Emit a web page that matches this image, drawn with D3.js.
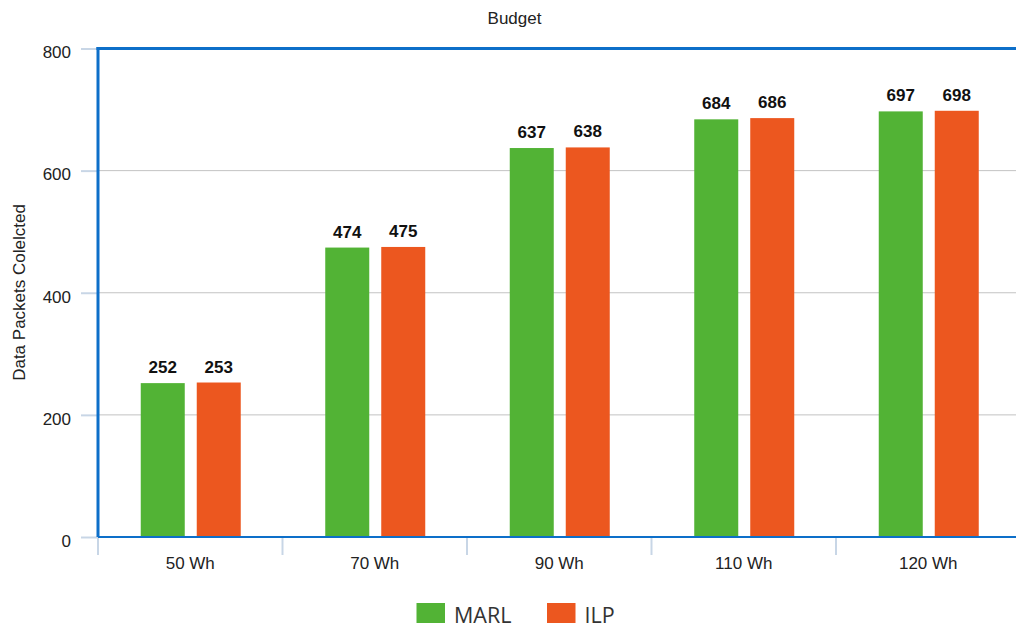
<!DOCTYPE html>
<html>
<head>
<meta charset="utf-8">
<script src="https://cdn.jsdelivr.net/npm/d3@7"></script>
<style>
  html, body { margin: 0; padding: 0; background: #fff; }
  svg { display: block; }
</style>
</head>
<body>
<svg id="chart" width="1016" height="628"></svg>
<script>
// Budget levels and packets collected per method
const categories = ["50 Wh", "70 Wh", "90 Wh", "110 Wh", "120 Wh"];
const seriesNames = ["MARL", "ILP"];
const marlValues = [252, 474, 637, 684, 697];
const ilpValues = [253, 475, 638, 686, 698];
const yTicks = [0, 200, 400, 600, 800];
const colors = ["#52b335", "#ec571f"];

const svg = d3.select("#chart");
const W = 1016, H = 628;
const plotLeft = 98, plotTop = 48.5, plotBottom = 537;
const bandW = 184.5;
const plotRight = plotLeft + bandW * categories.length;
const FONT = "Liberation Sans, Arial, sans-serif";

const x = d3.scaleBand().domain(categories).range([plotLeft, plotRight]).paddingInner(0).paddingOuter(0);
const y = d3.scaleLinear().domain([0, 800]).range([plotBottom, plotTop]);

// Horizontal gridlines
svg.append("g").selectAll("line").data(yTicks.filter(v => v > 0 && v < 800)).join("line")
  .attr("x1", plotLeft).attr("x2", W)
  .attr("y1", d => y(d)).attr("y2", d => y(d))
  .attr("stroke", "#c3c3c3").attr("stroke-width", 1);

// Y axis: tick stubs + labels
const yAxis = svg.append("g").attr("transform", `translate(${plotLeft},0)`)
  .call(d3.axisLeft(y).tickValues(yTicks).tickSize(17).tickPadding(10));
yAxis.select(".domain").remove();
yAxis.selectAll(".tick line").attr("stroke", "#c8d6e6").attr("stroke-width", 2);
yAxis.selectAll(".tick text").attr("font-family", FONT)
  .attr("font-size", 17).attr("fill", "#222").attr("dy", "0.55em");

// X axis: ticks at band boundaries
const xAxisG = svg.append("g").attr("transform", `translate(0,${plotBottom})`);
xAxisG.selectAll("line").data(categories).join("line")
  .attr("x1", d => x(d)).attr("x2", d => x(d))
  .attr("y1", 1).attr("y2", 18)
  .attr("stroke", "#c8d6e6").attr("stroke-width", 2);
xAxisG.selectAll("text").data(categories).join("text")
  .attr("x", d => x(d) + x.bandwidth() / 2).attr("y", 32)
  .attr("text-anchor", "middle")
  .attr("font-family", FONT)
  .attr("font-size", 17).attr("fill", "#222")
  .text(d => d);

// Bars
const barW = 44, gap = 12;
const rows = categories.map((c, i) => ({ cat: c, vals: [marlValues[i], ilpValues[i]] }));
const groups = svg.append("g").selectAll("g").data(rows).join("g");
groups.each(function(r) {
  const g = d3.select(this);
  const cx = x(r.cat) + x.bandwidth() / 2 + 0.5;
  r.vals.forEach((v, k) => {
    const bx = k === 0 ? cx - gap / 2 - barW : cx + gap / 2;
    g.append("rect")
      .attr("x", bx).attr("y", y(v))
      .attr("width", barW).attr("height", y(0) - y(v))
      .attr("fill", colors[k]);
    g.append("text")
      .attr("x", bx + barW / 2).attr("y", y(v) - 10)
      .attr("text-anchor", "middle")
      .attr("font-family", FONT)
      .attr("font-size", 17).attr("font-weight", "bold").attr("fill", "#111")
      .text(v);
  });
});

// Plot frame: left, top, bottom in blue
svg.append("line").attr("x1", plotLeft).attr("x2", plotLeft).attr("y1", plotTop - 1.5).attr("y2", plotBottom)
  .attr("stroke", "#0d6fc9").attr("stroke-width", 3);
svg.append("line").attr("x1", plotLeft - 1.5).attr("x2", W).attr("y1", plotTop).attr("y2", plotTop)
  .attr("stroke", "#0d6fc9").attr("stroke-width", 3);
svg.append("line").attr("x1", plotLeft).attr("x2", W).attr("y1", plotBottom).attr("y2", plotBottom)
  .attr("stroke", "#0d6fc9").attr("stroke-width", 2);

// Title
svg.append("text").attr("x", 514.5).attr("y", 24).attr("text-anchor", "middle")
  .attr("font-family", FONT).attr("font-size", 17).attr("fill", "#222")
  .text("Budget");

// Y axis title
svg.append("text").attr("transform", `translate(24.5,292.5) rotate(-90)`)
  .attr("text-anchor", "middle")
  .attr("font-family", FONT).attr("font-size", 17).attr("fill", "#222")
  .text("Data Packets Colelcted");

// Legend
const legendX = [416.5, 547];
const legend = svg.append("g").selectAll("g").data(seriesNames).join("g")
  .attr("transform", (d, i) => `translate(${legendX[i]},603)`);
legend.append("rect").attr("width", 28.5).attr("height", 20)
  .attr("fill", (d, i) => colors[i]);
legend.append("text").attr("x", 37.5).attr("y", 19.5)
  .attr("font-family", "Open Sans, sans-serif").attr("font-size", 21.5).attr("fill", "#333")
  .text(d => d);
</script>
</body>
</html>
